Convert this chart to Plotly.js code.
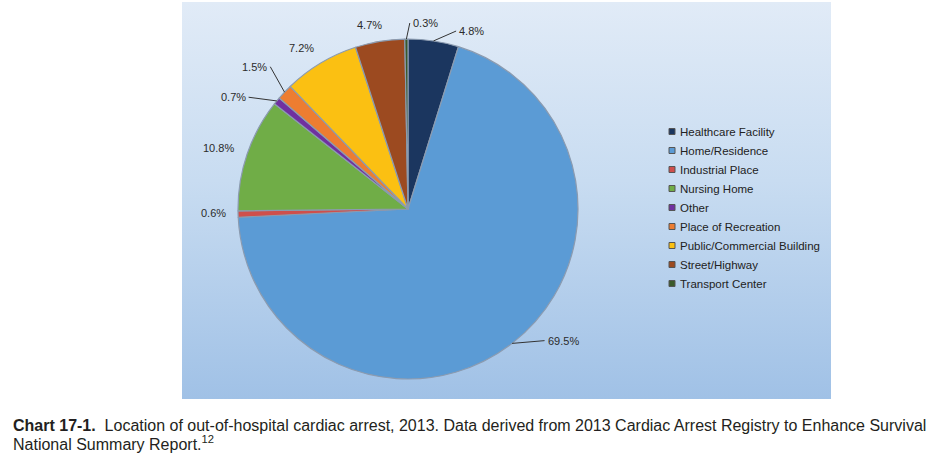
<!DOCTYPE html>
<html>
<head>
<meta charset="utf-8">
<script src="https://cdn.plot.ly/plotly-3.0.1.min.js"></script>
<style>
  html, body { margin: 0; padding: 0; background: #ffffff; }
  #wrap { position: relative; width: 949px; height: 459px; overflow: hidden; }
  #panel { position: absolute; left: 182px; top: 2px; width: 649px; height: 397px;
           background: linear-gradient(to bottom, #e1ebf7 0%, #c8dcf1 45%, #a0c1e6 100%); }
  #chart { position: absolute; left: 0; top: 0; width: 949px; height: 459px; }
</style>
</head>
<body>
<div id="wrap">
  <div id="panel"></div>
  <div id="chart"></div>
</div>
<script>
// ---- Data ----
const categories = [
  "Healthcare Facility",
  "Home/Residence",
  "Industrial Place",
  "Nursing Home",
  "Other",
  "Place of Recreation",
  "Public/Commercial Building",
  "Street/Highway",
  "Transport Center"
];
const percentages = [4.8, 69.5, 0.6, 10.8, 0.7, 1.5, 7.2, 4.7, 0.3];
const sliceLabels = ["4.8%", "69.5%", "0.6%", "10.8%", "0.7%", "1.5%", "7.2%", "4.7%", "0.3%"];

// ---- Styles ----
const sliceColors = ["#1b365f", "#5b9bd5", "#cf4f4c", "#70ad47", "#7030a0", "#ed7d31", "#fbc012", "#9c4a20", "#3a5a2a"];
// label placement: [angle nudge (deg), radius factor, xanchor, leader line]
const labelPlacement = [
  [6.8, 1.086, "left", true],
  [-8.5, 1.12, "left", true],
  [0.4, 1.06, "right", false],
  [0.7, 1.075, "right", false],
  [-4.6, 1.15, "right", true],
  [2.3, 1.169, "right", true],
  [-2.6, 1.139, "center", false],
  [-2.2, 1.104, "center", false],
  [1.4, 1.094, "left", true]
];

const W = 949, H = 459;
const CX = 408, CY = 209, R = 170;

const trace = {
  type: "pie",
  labels: categories,
  values: percentages,
  sort: false,
  direction: "clockwise",
  rotation: 0,
  textinfo: "none",
  hoverinfo: "label+percent",
  marker: { colors: sliceColors, line: { color: "#8b9bb0", width: 1.2 } },
  domain: { x: [(CX - R) / W, (CX + R) / W], y: [(H - CY - R) / H, (H - CY + R) / H] }
};

const total = percentages.reduce((a, b) => a + b, 0);
const annotations = [];
const shapes = [];
let cum = 0;
percentages.forEach((v, i) => {
  const mid = (cum + v / 2) / total * 360;
  cum += v;
  const [nudge, k, xa, leader] = labelPlacement[i];
  const th = (mid + nudge) * Math.PI / 180;
  const lx = CX + R * k * Math.sin(th);
  const ly = CY - R * k * Math.cos(th);
  annotations.push({
    xref: "paper", yref: "paper", x: lx / W, y: (H - ly) / H,
    xanchor: xa, yanchor: "middle", showarrow: false,
    text: sliceLabels[i],
    font: { family: "Liberation Sans, Arial, sans-serif", size: 11, color: "#2b2b2b" }
  });
  if (leader) {
    const tm = mid * Math.PI / 180;
    const ex = CX + R * Math.sin(tm);
    const ey = CY - R * Math.cos(tm);
    const gap = xa === "left" ? -1 : (xa === "right" ? 1 : 0);
    shapes.push({
      type: "line", xref: "paper", yref: "paper",
      x0: ex / W, y0: (H - ey) / H, x1: (lx + gap) / W, y1: (H - ly) / H,
      line: { color: "#333333", width: 1 }
    });
  }
});

annotations.push({
  xref: "paper", yref: "paper", x: 11 / W, y: (H - 425) / H,
  xanchor: "left", yanchor: "middle", showarrow: false, align: "left",
  text: "<b>Chart 17-1.</b>  Location of out-of-hospital cardiac arrest, 2013. Data derived from 2013 Cardiac Arrest Registry to Enhance Survival",
  font: { family: "Liberation Sans, Arial, sans-serif", size: 16, color: "#231f20" }
});
annotations.push({
  xref: "paper", yref: "paper", x: 11 / W, y: (H - 443) / H,
  xanchor: "left", yanchor: "middle", showarrow: false, align: "left",
  text: "National Summary Report.<sup>12</sup>",
  font: { family: "Liberation Sans, Arial, sans-serif", size: 16, color: "#231f20" }
});

const layout = {
  width: W, height: H,
  margin: { l: 0, r: 0, t: 0, b: 0 },
  paper_bgcolor: "rgba(0,0,0,0)",
  plot_bgcolor: "rgba(0,0,0,0)",
  showlegend: true,
  legend: {
    x: 640 / W, xanchor: "left", y: (H - 207.5) / H, yanchor: "middle",
    bgcolor: "rgba(0,0,0,0)",
    font: { family: "Liberation Sans, Arial, sans-serif", size: 11.5, color: "#222222" },
    traceorder: "normal"
  },
  annotations: annotations,
  shapes: shapes
};

Plotly.newPlot("chart", [trace], layout, { displayModeBar: false, staticPlot: true }).then(gd => {
  gd.querySelectorAll("path.legendpie").forEach(p => {
    p.setAttribute("d", "M15,3H9V-3H15Z");
    p.style.strokeWidth = "1px";
    p.style.stroke = "#555555";
  });
});
</script>
</body>
</html>
